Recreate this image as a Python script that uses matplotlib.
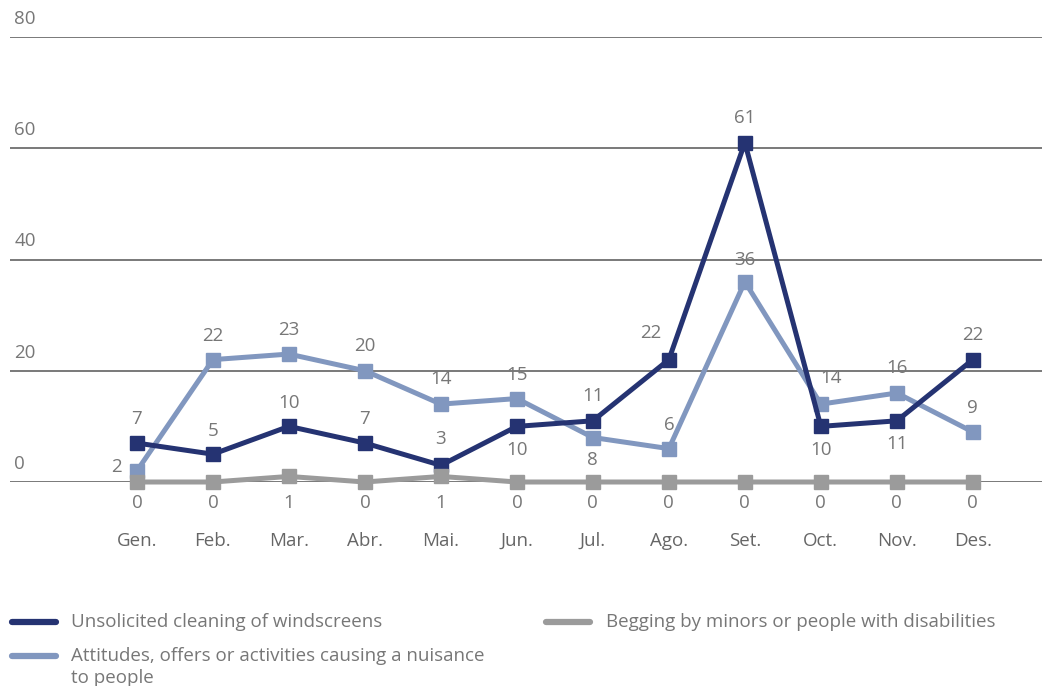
import matplotlib.pyplot as plt
from matplotlib.lines import Line2D

plt.rcParams['font.family'] = ['Open Sans', 'DejaVu Sans']

months = ["Gen.", "Feb.", "Mar.", "Abr.", "Mai.", "Jun.", "Jul.", "Ago.", "Set.", "Oct.", "Nov.", "Des."]
windscreens = [7, 5, 10, 7, 3, 10, 11, 22, 61, 10, 11, 22]
nuisance = [2, 22, 23, 20, 14, 15, 8, 6, 36, 14, 16, 9]
begging = [0, 0, 1, 0, 1, 0, 0, 0, 0, 0, 0, 0]
y_ticks = [0, 20, 40, 60, 80]

names = [
    "Unsolicited cleaning of windscreens",
    "Attitudes, offers or activities causing a nuisance\nto people",
    "Begging by minors or people with disabilities",
]
DARK = "#253372"
LIGHT = "#8197bf"
GREY = "#9b9b9b"
TXT = "#777777"
FS = 13.5

# label placement per point: (dx, dy) in points
off_dark = [(0, 17), (0, 17), (0, 17), (0, 17), (0, 19), (0, -17), (0, 18),
            (-13, 19), (0, 18), (0, -17), (0, -17), (0, 18)]
off_light = [(-15, 3), (0, 17), (0, 17), (0, 18), (0, 18), (0, 17), (0, -16),
             (0, 17), (0, 16), (7, 19), (0, 18), (0, 17)]

fig = plt.figure(figsize=(10.42, 6.86), dpi=100)
ax = fig.add_axes([10 / 1042, 1 - 482 / 686, 1032 / 1042, 445 / 686])
ax.set_xlim(-1.67, 11.91)
ax.set_ylim(0, 80)
for s in ax.spines.values():
    s.set_visible(False)

for v in y_ticks:
    ax.axhline(v, color="#555555", lw=1.1, zorder=1)
    ax.annotate(str(v), xy=(0.004, v), xycoords=("axes fraction", "data"),
                xytext=(0, 13), textcoords="offset points",
                ha="left", va="center", fontsize=FS, color=TXT)

x = list(range(len(months)))
ax.plot(x, nuisance, color=LIGHT, lw=3.6, marker="s", ms=10, zorder=3, clip_on=False)
ax.plot(x, windscreens, color=DARK, lw=3.6, marker="s", ms=10, zorder=4, clip_on=False)
ax.plot(x, begging, color=GREY, lw=3.6, marker="s", ms=10, zorder=5, clip_on=False)

for i in x:
    ax.annotate(str(windscreens[i]), (i, windscreens[i]), xytext=off_dark[i],
                textcoords="offset points", ha="center", va="center",
                fontsize=FS, color=TXT)
    ax.annotate(str(nuisance[i]), (i, nuisance[i]), xytext=off_light[i],
                textcoords="offset points", ha="center", va="center",
                fontsize=FS, color=TXT)
    # begging labels sit on one row under the baseline
    ax.annotate(str(begging[i]), (i, 0), xytext=(0, -15),
                textcoords="offset points", ha="center", va="center",
                fontsize=FS, color=TXT)

ax.set_yticks([])
ax.set_xticks(x)
ax.set_xticklabels(months, fontsize=FS, color="#666666")
ax.tick_params(axis="x", length=0, pad=36)

# legend drawn by hand in two columns
legend_items = [
    (names[0], DARK, 12, 622, 71),
    (names[1], LIGHT, 12, 656, 71),
    (names[2], GREY, 546, 622, 606),
]
for label, col, x0, y0, tx in legend_items:
    fig.add_artist(Line2D([x0 / 1042, (x0 + 44) / 1042], [1 - y0 / 686, 1 - y0 / 686],
                          color=col, lw=4.5, solid_capstyle="round"))
    for k, part in enumerate(label.split("\n")):
        fig.text(tx / 1042, 1 - (y0 + 22 * k) / 686, part, fontsize=FS, color=TXT,
                 ha="left", va="center")

fig.savefig("out.png", dpi=100)
